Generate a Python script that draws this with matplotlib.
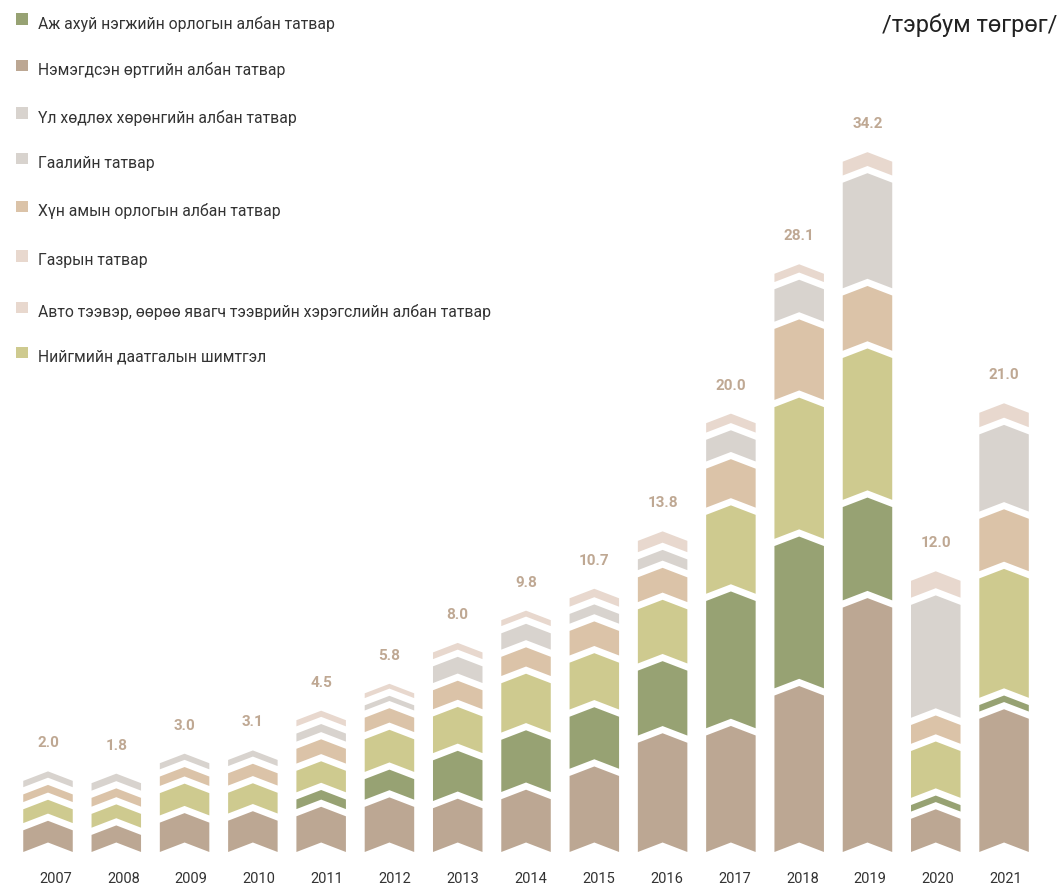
import matplotlib
matplotlib.use("Agg")
import matplotlib.pyplot as plt
from matplotlib.patches import Polygon, Rectangle
import numpy as np

# ---------------- data (тэрбум төгрөг) ----------------
years = ["2007", "2008", "2009", "2010", "2011", "2012", "2013", "2014",
         "2015", "2016", "2017", "2018", "2019", "2020", "2021"]
totals = [2.0, 1.8, 3.0, 3.1, 4.5, 5.8, 8.0, 9.8, 10.7, 13.8, 20.0, 28.1, 34.2, 12.0, 21.0]

vat = [1.13, 0.89, 1.53, 1.63, 1.86, 2.35, 2.28, 2.75, 3.96, 5.69, 6.07, 8.15, 12.73, 1.73, 6.94]
cit = [0.0, 0.0, 0.0, 0.0, 0.50, 1.07, 2.12, 2.72, 2.71, 3.38, 6.63, 7.41, 4.86, 0.34, 0.34]
social = [0.72, 0.72, 1.16, 1.08, 1.12, 1.70, 1.91, 2.57, 2.44, 2.82, 4.11, 6.86, 7.39, 2.44, 6.22]
pit = [0.40, 0.46, 0.49, 0.64, 0.77, 0.75, 0.99, 1.00, 1.28, 1.29, 2.03, 3.70, 2.88, 0.98, 2.73]
property_tax = [0.33, 0.39, 0.32, 0.32, 0.42, 0.27, 0.87, 0.85, 0.51, 0.56, 1.13, 1.69, 5.50, 5.88, 4.02]
land_tax = [0.0, 0.0, 0.0, 0.0, 0.32, 0.25, 0.35, 0.31, 0.44, 0.59, 0.49, 0.43, 0.72, 0.88, 0.75]

legend_labels = [
    "Аж ахуй нэгжийн орлогын албан татвар",
    "Нэмэгдсэн өртгийн албан татвар",
    "Үл хөдлөх хөрөнгийн албан татвар",
    "Гаалийн татвар",
    "Хүн амын орлогын албан татвар",
    "Газрын татвар",
    "Авто тээвэр, өөрөө явагч тээврийн хэрэгслийн албан татвар",
    "Нийгмийн даатгалын шимтгэл",
]
unit_label = "/тэрбум төгрөг/"

# ---------------- style ----------------
C_GREEN = "#97A273"
C_BROWN = "#BCA793"
C_GRAY = "#D8D3CE"
C_TAN = "#DBC3A8"
C_PINK = "#E8D8CE"
C_YELLOW = "#CECA8F"
legend_colors = [C_GREEN, C_BROWN, C_GRAY, C_GRAY, C_TAN, C_PINK, C_PINK, C_YELLOW]

stack = [(vat, C_BROWN), (cit, C_GREEN), (social, C_YELLOW),
         (pit, C_TAN), (property_tax, C_GRAY), (land_tax, C_PINK)]

plt.rcParams["font.family"] = ["Roboto", "DejaVu Sans"]

W, H = 1062, 892
fig = plt.figure(figsize=(W / 100, H / 100), dpi=100)
ax = fig.add_axes([0, 0, 1, 1])
ax.axis("off")

PX_PER_UNIT = 19.2      # vertical scale
BASE_PX = 852           # baseline pixel row
X0_PX, STEP_PX = 48.0, 68.29
ax.set_ylim(-(H - BASE_PX) / PX_PER_UNIT, BASE_PX / PX_PER_UNIT)
ax.set_xlim(-X0_PX / STEP_PX, (W - X0_PX) / STEP_PX)

half_w = 24.75 / STEP_PX
chev = 9.5 / PX_PER_UNIT
gap = 7.2 / PX_PER_UNIT

x = np.arange(len(years))
tops = []
for i, xi in enumerate(x):
    y = 0.0
    first = True
    for values, color in stack:
        v = values[i]
        if v <= 0:
            continue
        if not first:
            y += gap
        y0, y1 = y, y + v
        pts = [(xi - half_w, y0), (xi, y0 + chev), (xi + half_w, y0),
               (xi + half_w, y1), (xi, y1 + chev), (xi - half_w, y1)]
        ax.add_patch(Polygon(pts, closed=True, facecolor=color, edgecolor="none"))
        y = y1
        first = False
    tops.append(y)

# total labels
for xi, top, t in zip(x, tops, totals):
    ax.text(xi, top + 33.5 / PX_PER_UNIT, f"{t:.1f}", ha="center", va="baseline",
            fontsize=11, fontweight="bold", color="#BFA893")

# year labels
for i, yr in enumerate(years):
    px = 55.5 + 67.9 * i
    fig.text(px / W, 1 - 883.3 / H, yr, ha="center", va="baseline",
             fontsize=10.5, color="#333333")

# legend
sq_centers = [19, 65.5, 113, 158.5, 206.7, 256, 307.5, 352.5]
sq = 11.5
for lab, col, cy in zip(legend_labels, legend_colors, sq_centers):
    fig.patches.append(Rectangle(((16) / W, 1 - (cy + sq / 2) / H), sq / W, sq / H,
                                 transform=fig.transFigure, facecolor=col,
                                 edgecolor="none"))
    fig.text(38 / W, 1 - (cy + 9.5) / H, lab, ha="left", va="baseline",
             fontsize=11.3, color="#333333")

# unit label
fig.text(1057 / W, 1 - 32 / H, unit_label, ha="right", va="baseline",
         fontsize=17, color="#222222")

fig.savefig("out.png", dpi=100, facecolor="white")
